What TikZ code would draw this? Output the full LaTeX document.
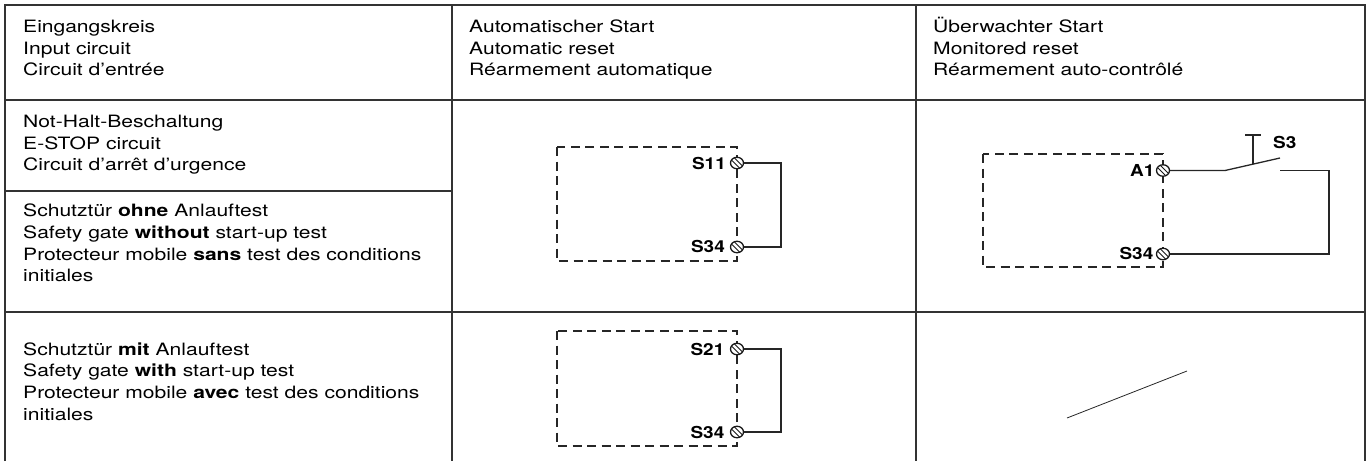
\documentclass[tikz,border=0pt]{standalone}
\usepackage{fontspec}
\setmainfont{TeX Gyre Heros}[FakeStretch=1.24]
\newfontfamily\lblfont{TeX Gyre Heros}[FakeStretch=1.15]
\usetikzlibrary{shapes.geometric}
\begin{document}
\begin{tikzpicture}[x=1pt,y=-1pt,
  tbl/.style={line width=1.2pt, draw=black!80},
  txt/.style={anchor=base west, inner sep=0pt, font=\fontsize{17}{20}\selectfont},
  lbl/.style={anchor=base east, inner sep=0pt, font=\lblfont\bfseries\fontsize{16.5}{19}\selectfont},
  lblw/.style={lbl, anchor=base west},
  dashbox/.style={draw=black!85, line width=1.7pt, dash pattern=on 9pt off 5.5pt},
  wire/.style={line width=1.5pt, draw=black!85},
  termnode/.style={ellipse, draw=black!90, line width=1.3pt, fill=white,
    minimum width=13pt, minimum height=11.5pt, inner sep=0pt,
    path picture={
      \draw[line width=1pt] ([shift={(-2.5,-5)}]path picture bounding box.center) -- ([shift={(5,2.5)}]path picture bounding box.center);
      \draw[line width=1pt] ([shift={(-5,-2.5)}]path picture bounding box.center) -- ([shift={(2.5,5)}]path picture bounding box.center);
    }}]
\useasboundingbox (0,0) rectangle (1368,461);

% table
\draw[tbl] (5,461) -- (5,5) -- (1365,5) -- (1365,461);
\draw[tbl] (452,5) -- (452,461);
\draw[tbl] (916,5) -- (916,461);
\draw[tbl] (5,100) -- (1365,100);
\draw[tbl] (5,191) -- (452,191);
\draw[tbl] (5,312) -- (1365,312);

% header texts
\node[txt] (h1a) at (23,32) {Eingangskreis};
\node[txt] (h1b) at (23,54) {Input circuit};
\node[txt] (h1c) at (23,75.5) {Circuit d’entrée};
\node[txt] (h2a) at (469,32) {Automatischer Start};
\node[txt] (h2b) at (469,54) {Automatic reset};
\node[txt] (h2c) at (469,75.5) {Réarmement automatique};
\node[txt] (h3a) at (933,32) {Überwachter Start};
\node[txt] (h3b) at (933,54) {Monitored reset};
\node[txt] (h3c) at (933,75.5) {Réarmement auto-contrôlé};

% row A
\node[txt] (ra1) at (23,127.7) {Not-Halt-Beschaltung};
\node[txt] (ra2) at (23,149.3) {E-STOP circuit};
\node[txt] (ra3) at (23,170.8) {Circuit d’arrêt d’urgence};

% row B
\node[txt] (rb1) at (23,216.7) {Schutztür \textbf{ohne} Anlauftest};
\node[txt] (rb2) at (23,238.3) {Safety gate \textbf{without} start-up test};
\node[txt] (rb3) at (23,260) {Protecteur mobile \textbf{sans} test des conditions};
\node[txt] (rb4) at (23,281.7) {initiales};

% row C
\node[txt] (rc1) at (23,355) {Schutztür \textbf{mit} Anlauftest};
\node[txt] (rc2) at (23,376.7) {Safety gate \textbf{with} start-up test};
\node[txt] (rc3) at (23,398.3) {Protecteur mobile \textbf{avec} test des conditions};
\node[txt] (rc4) at (23,420) {initiales};

% circuit 1 (automatic, E-STOP / gate without)
\draw[dashbox] (557,147) rectangle (737,261);
\node[termnode] (t11) at (737,163) {};
\node[termnode] (t134) at (737,247) {};
\node[lbl] (l11) at (726,169) {S11};
\node[lbl] (l134) at (725,252.8) {S34};
\coordinate (r1) at (781,163);
\draw[wire] (t11.east) -- (r1) |- (t134.east);

% circuit 2 (automatic, gate with)
\draw[dashbox] (557,331) rectangle (737,446);
\node[termnode] (t21) at (737,349) {};
\node[termnode] (t234) at (737,432) {};
\node[lbl] (l21) at (724.5,355) {S21};
\node[lbl] (l234) at (724.5,438) {S34};
\coordinate (r2) at (781,349);
\draw[wire] (t21.east) -- (r2) |- (t234.east);

% circuit 3 (monitored)
\draw[dashbox] (983,154) rectangle (1163,267);
\node[termnode] (ta1) at (1163,170.5) {};
\node[termnode] (t334) at (1163,254) {};
\node[lbl] (la1) at (1154.5,176.3) {A1};
\node[lbl] (l334) at (1153.5,259.8) {S34};
\coordinate (swa) at (1225,170.5);
\coordinate (swb) at (1280,158);
\coordinate (swc) at (1280,170.5);
\coordinate (r3) at (1329,170.5);
\coordinate (pl) at (1253,164.1);
\coordinate (pt) at (1253,135);
\draw[wire, line width=1.3pt] (ta1.east) -- (swa) -- (swb);
\draw[wire, line width=1.3pt] (swc) -- (r3) |- (t334.east);
\draw[wire, line width=1.3pt] (pl) -- (pt);
\draw[wire, line width=1.3pt] ([xshift=-8pt]pt) -- ([xshift=8pt]pt);
\node[lblw] (ls3) at (1273,148) {S3};

% stray diagonal line (row C, monitored)
\coordinate (d1) at (1067,418);
\coordinate (d2) at (1187,371);
\draw[line width=0.8pt, draw=black!85] (d1) -- (d2);
\end{tikzpicture}
\end{document}
